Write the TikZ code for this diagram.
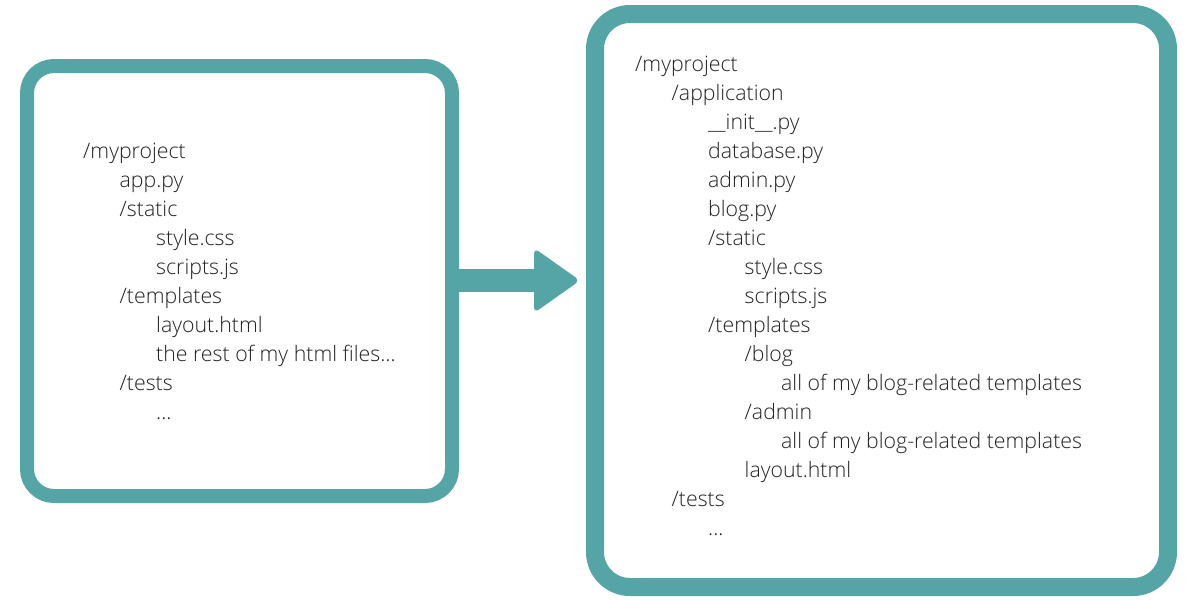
\documentclass[tikz,border=0pt]{standalone}
\usepackage{fontspec}
\setmainfont{Open Sans}[UprightFont=* Light]
\definecolor{teal1}{HTML}{56A5A6}
\definecolor{ink}{HTML}{222222}
\begin{document}
\begin{tikzpicture}[x=1pt,y=-1pt,
  boxframe/.style={draw=teal1,fill=white,inner sep=0pt,outer sep=0pt},
  treeitem/.style={anchor=base west,inner sep=0pt,text=ink,font=\fontsize{21.3}{25}\selectfont},
  shaft/.style={draw=teal1,line width=23pt}]
\useasboundingbox (0,0) rectangle (1200,600);
\fill[white] (0,0) rectangle (1200,600);
% boxes
\node[boxframe,line width=14pt,rounded corners=27pt,minimum width=425pt,minimum height=430pt] (lbox) at (239.5,281) {};
\node[boxframe,line width=18pt,rounded corners=35pt,minimum width=573pt,minimum height=573pt] (rbox) at (881.5,300.5) {};
% arrow
\coordinate (tip) at (580,280.5);
\draw[shaft] (lbox.east |- tip) -- ++(86,0);
\fill[teal1,rounded corners=6pt] ([shift={(-46,-32.5)}]tip) -- (tip) -- ([shift={(-46,32.5)}]tip) -- cycle;
% left tree
\foreach \lv/\t [count=\i] in {
  0/{/myproject}, 1/{app.py}, 1/{/static}, 2/{style.css}, 2/{scripts.js}, 1/{/templates},
  2/{layout.html}, 2/{the rest of my html files…}, 1/{/tests}, 2/{...}}
  \node[treeitem] (l\i) at (83+36.5*\lv, 129+29*\i) {\t};
% right tree
\foreach \lv/\t [count=\i] in {
  0/{/myproject}, 1/{/application}, 2/{\_\_init\_\_.py}, 2/{database.py}, 2/{admin.py},
  2/{blog.py}, 2/{/static}, 3/{style.css}, 3/{scripts.js}, 2/{/templates}, 3/{/blog},
  4/{all of my blog-related templates}, 3/{/admin}, 4/{all of my blog-related templates},
  3/{layout.html}, 1/{/tests}, 2/{...}}
  \node[treeitem] (r\i) at (635+36.5*\lv, 42+29*\i) {\t};
\end{tikzpicture}
\end{document}
